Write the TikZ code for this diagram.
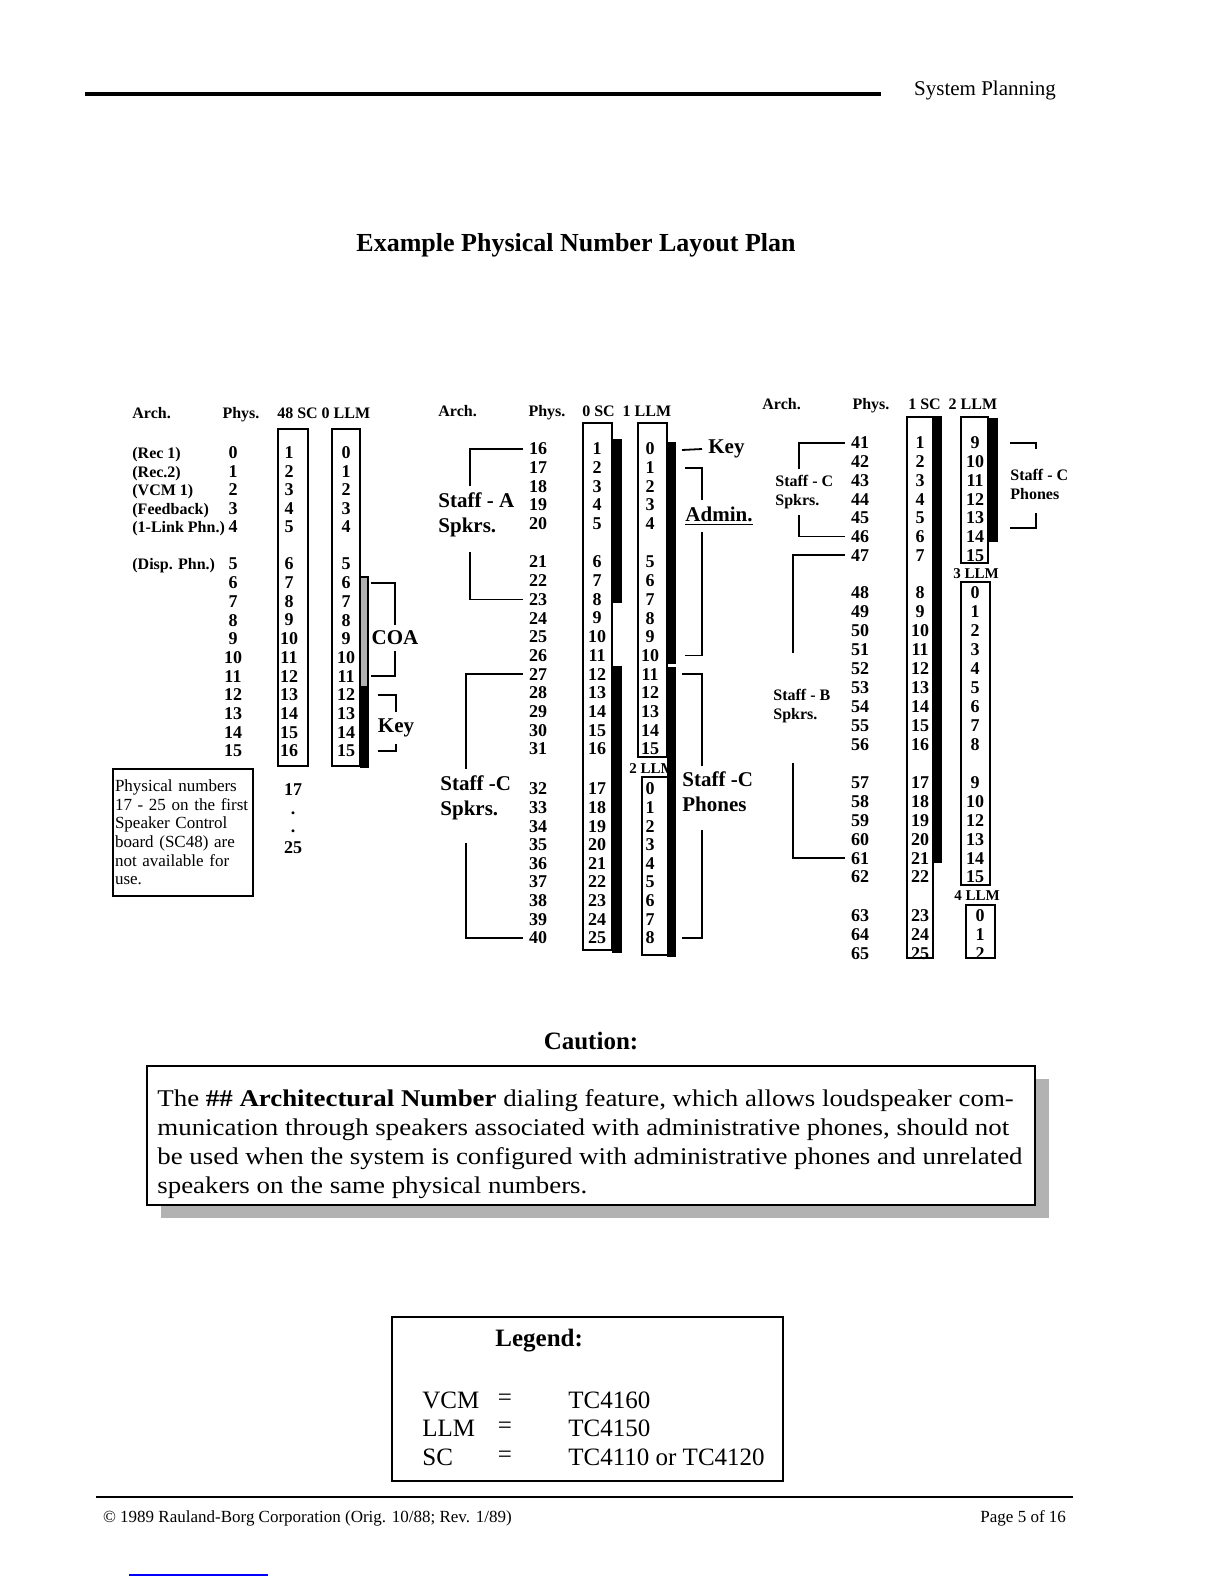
\documentclass[tikz,border=0pt]{standalone}
\usepackage{fontspec}
\setmainfont{Liberation Serif}
\newfontfamily\cautionfont[FakeStretch=1.12]{Liberation Serif}
\usetikzlibrary{positioning, shadows, calc}

\begin{document}
\begin{tikzpicture}[
    x=0.5pt, y=-0.5pt,
    num/.style={font=\fontsize{9}{9}\selectfont\bfseries, inner xsep=3pt, inner ysep=1pt},
    lab/.style={font=\fontsize{8}{9}\selectfont\bfseries, inner sep=0pt, anchor=base west},
    head/.style={font=\fontsize{8}{8}\selectfont\bfseries, inner sep=0pt, anchor=base west},
    board/.style={font=\fontsize{7.5}{7.5}\selectfont\bfseries, inner sep=0pt},
    tag/.style={font=\fontsize{10.5}{12.5}\selectfont\bfseries, align=left, inner xsep=0pt, inner ysep=3pt},
    smalltag/.style={font=\fontsize{8}{9.5}\selectfont\bfseries, align=left, inner xsep=0pt, inner ysep=3pt, anchor=west},
    card/.style={draw, line width=1pt},
    bar/.style={fill=black},
    brk/.style={line width=0.9pt},
    note/.style={draw, line width=1pt, align=left, text width=68pt, inner xsep=1pt, minimum height=63.5pt, anchor=north west, font=\fontsize{8.5}{9.3}\selectfont},
    legtxt/.style={font=\fontsize{12.5}{14}\selectfont, inner sep=0pt}
  ]
    \fill[white] (0,0) rectangle (1225,1585);
    \useasboundingbox (0,0) rectangle (1225,1585);

    \draw[line width=2pt] (85,94) -- (881,94);
    \node[anchor=east, font=\fontsize{10.5}{10.5}\selectfont] (section) at (1063,90) {System Planning};
    \node[font=\fontsize{13}{13}\selectfont\bfseries] (title) at (576,245) {Example Physical Number Layout Plan};

    \node[head] (archA) at (132,418) {Arch.};
    \node[head, base right=25.5pt of archA] (physA) {Phys.};
    \node[head, base right=8.5pt of physA] (boardA) {48 SC 0 LLM};
    \draw[card] (278,429) rectangle (308,766);
    \draw[card] (332,429) rectangle (360,766);
    \draw[fill=black!30, line width=0.6pt] (360,577) rectangle (368,687);
    \fill[bar] (360,687) rectangle (369,768);
    \foreach \n in {0,...,15} {
      \pgfmathsetmacro\yy{ifthenelse(\n<5,453+18.5*\n,564+18.7*(\n-5))}
      \pgfmathtruncatemacro\scn{\n+1}
      \node[num] (pa\n) at (233,\yy) {\n};
      \node[num] (sa\n) at (289,\yy) {\scn};
      \node[num] (la\n) at (346,\yy) {\n};
    }
    \node[lab] (rec1) at (pa0.base -| archA.west) {(Rec 1)};
    \node[lab] (rec2) at (pa1.base -| archA.west) {(Rec.2)};
    \node[lab] (vcm1) at (pa2.base -| archA.west) {(VCM 1)};
    \node[lab] (fdbk) at (pa3.base -| archA.west) {(Feedback)};
    \node[lab] (link) at (pa4.base -| archA.west) {(1-Link Phn.)};
    \node[lab] (disp) at (pa5.base -| archA.west) {(Disp. Phn.)};
    \node[tag] (coa) at (395,638) {COA};
    \node[tag] (keyA) at (396,728) {Key};
    \draw[brk] (coa.west |- la6) -| (coa.north);
    \draw[brk] (coa.west |- la11) -| (coa.south);
    \draw[brk] (keyA.west |- la12) -| (keyA.north);
    \draw[brk] (keyA.west |- la15) -| (keyA.south);
    \node[note] (noteA) at (112,768)
    {Physical numbers\\17 - 25 on the first\\Speaker Control\\board (SC48) are\\not available for\\use.};
    \node[num] (n17) at (293,790) {17};
    \node[num, inner sep=0pt] (dot1) at (293,813) {.};
    \node[num, inner sep=0pt] (dot2) at (293,831) {.};
    \node[num] (n25) at (293,848) {25};

    \node[head] (archB) at (438,416) {Arch.};
    \node[head, base right=25.5pt of archB] (physB) {Phys.};
    \node[head, base right=8pt of physB] (boardB) {0 SC\ \ 1 LLM};
    \draw[card] (583,423) rectangle (612,950);
    \fill[bar] (612,439) rectangle (622,603);
    \fill[bar] (612,666) rectangle (622,953);
    \draw[card] (638,423) rectangle (667,757);
    \node[board] (llm2) at (652,769) {2 LLM};
    \draw[card] (642,777) rectangle (669,955);
    \fill[bar] (667,442) rectangle (676,664);
    \fill[bar] (667,667) rectangle (676,957);
    \foreach \n in {16,...,40} {
      \pgfmathsetmacro\yy{ifthenelse(\n<21,449+18.6*(\n-16),ifthenelse(\n<32,562+18.7*(\n-21),789+18.6*(\n-32)))}
      \pgfmathtruncatemacro\scn{\n-15}
      \pgfmathtruncatemacro\llmn{ifthenelse(\n<32,\n-16,\n-32)}
      \node[num] (pb\n) at (538,\yy) {\n};
      \node[num] (sb\n) at (597,\yy) {\scn};
      \node[num] (lb\n) at (650,\yy) {\llmn};
    }
    \node[tag, anchor=west] (stA) at (438,515) {Staff - A\\Spkrs.};
    \node[tag, anchor=west] (stC) at (440,798) {Staff -C\\Spkrs.};
    \node[tag, anchor=west] (keyB) at (708,449) {Key};
    \node[tag] (adm) at (719,516) {\underline{Admin.}};
    \node[tag, anchor=west] (phB) at (682,792) {Staff -C\\Phones};
    \draw[brk] (pb16.west) -| ([xshift=-3pt]stA.north);
    \draw[brk] (pb23.west) -| ([xshift=-3pt,yshift=-4pt]stA.south);
    \draw[brk] (pb27.west) -| ([xshift=-5pt]stC.north);
    \draw[brk] (pb40.west) -| ([xshift=-5pt,yshift=-8pt]stC.south);
    \coordinate (keytick) at (682,450);
    \draw[brk] (keytick) -- ([xshift=-3pt]keyB.west);
    \draw[brk] (adm.west |- lb17) -| ([xshift=-8.5pt]adm.north);
    \draw[brk] (adm.west |- lb26) -| ([xshift=-8.5pt]adm.south);
    \draw[brk] (phB.west |- lb27) -| ([xshift=-8pt]phB.north);
    \draw[brk] (phB.west |- lb40) -| ([xshift=-8pt,yshift=-6pt]phB.south);

    \node[head] (archC) at (762,409) {Arch.};
    \node[head, base right=25.5pt of archC] (physC) {Phys.};
    \node[head, base right=9pt of physC] (boardC) {1 SC\ \ 2 LLM};
    \draw[card] (907,417) rectangle (933,958);
    \fill[bar] (933,416) rectangle (942,863);
    \draw[card] (961,417) rectangle (988,563);
    \fill[bar] (988,418) rectangle (998,542);
    \node[board] (llm3) at (976,574) {3 LLM};
    \draw[card] (961,582) rectangle (990,885);
    \node[board] (llm4) at (977,896) {4 LLM};
    \draw[card] (966,905) rectangle (995,958);
    \foreach \n in {41,...,65} {
      \pgfmathsetmacro\yy{ifthenelse(\n<48,443+18.7*(\n-41),ifthenelse(\n<57,593+18.9*(\n-48),ifthenelse(\n<63,783+18.8*(\n-57),916+18.6*(\n-63))))}
      \pgfmathtruncatemacro\scn{\n-40}
      \node[num] (pc\n) at (860,\yy) {\n};
      \node[num] (sc\n) at (920,\yy) {\scn};
    }
    \coordinate (llmx) at (975,0);
    \coordinate (llmxb) at (980,0);
    \foreach \n/\val in {41/9,42/10,43/11,44/12,45/13,46/14,47/15,48/0,49/1,50/2,51/3,52/4,53/5,54/6,55/7,56/8,57/9,58/10,59/12,60/13,61/14,62/15}
      \node[num] (lc\n) at (pc\n -| llmx) {\val};
    \foreach \n/\val in {63/0,64/1,65/2}
      \node[num] (lc\n) at (pc\n -| llmxb) {\val};
    \node[smalltag] (scR) at (775,492) {Staff - C\\Spkrs.};
    \node[smalltag] (sbR) at (773,706) {Staff - B\\Spkrs.};
    \node[smalltag] (phR) at (1010,484) {Staff - C\\Phones};
    \draw[brk] (pc41.west) -| ([xshift=-2.5pt]scR.north);
    \draw[brk] (pc46.west) -| ([xshift=-2.5pt]scR.south);
    \draw[brk] (pc47.west) -| ([xshift=-4.5pt,yshift=15pt]sbR.north);
    \draw[brk] (pc61.west) -| ([xshift=-4.5pt,yshift=-17pt]sbR.south);
    \draw[brk] (phR.west |- lc41) -| ([xshift=-1.5pt,yshift=6.5pt]phR.north);
    \draw[brk] ($(phR.west |- lc45)+(0,10)$) -| ([xshift=-1.5pt,yshift=-3.5pt]phR.south);

    \node[font=\fontsize{12.5}{12.5}\selectfont\bfseries] (caution) at (591,1041) {Caution:};
    \node[draw, fill=white, line width=1pt, minimum width=444pt, minimum height=69.5pt,
      drop shadow={shadow xshift=7pt, shadow yshift=-6.5pt, fill=black!30, opacity=1}] (cbox) at (591,1135.5) {};
    \node[anchor=west, align=left, inner sep=0pt, font=\cautionfont\fontsize{12}{14.5}\selectfont] (ctext) at (157,1144.5)
    {The \textbf{\#\# Architectural Number} dialing feature, which allows loudspeaker com-\\
     munication through speakers associated with administrative phones, should not\\
     be used when the system is configured with administrative phones and unrelated\\
     speakers on the same physical numbers.};

    \node[draw, line width=1.2pt, minimum width=195.5pt, minimum height=82pt] (legbox) at (587.5,1399) {};
    \node[legtxt, font=\fontsize{12.5}{14}\selectfont\bfseries, anchor=west] (legtitle) at (495,1341) {Legend:};
    \node[legtxt, anchor=west] (kvcm) at (422,1400) {VCM};
    \node[legtxt] (evcm) at (505,1400) {=};
    \node[legtxt, anchor=west] (tvcm) at (568,1400) {TC4160};
    \node[legtxt, anchor=west] (kllm) at (422,1428) {LLM};
    \node[legtxt] (ellm) at (505,1428) {=};
    \node[legtxt, anchor=west] (tllm) at (568,1428) {TC4150};
    \node[legtxt, anchor=west] (ksc) at (422,1457) {SC};
    \node[legtxt] (esc) at (505,1457) {=};
    \node[legtxt, anchor=west] (tsc) at (568,1457) {TC4110 or TC4120};

    \draw[line width=1pt] (96,1497) -- (1073,1497);
    \node[anchor=west, font=\fontsize{8.5}{8.5}\selectfont] (copy) at (96,1518) {\textcopyright{} 1989 Rauland-Borg Corporation (Orig. 10/88; Rev. 1/89)};
    \node[anchor=east, font=\fontsize{8.5}{8.5}\selectfont] (pageno) at (1073,1518) {Page 5 of 16};
    \draw[blue, line width=0.8pt] (129,1575) -- (268,1575);
  \end{tikzpicture}
\end{document}
